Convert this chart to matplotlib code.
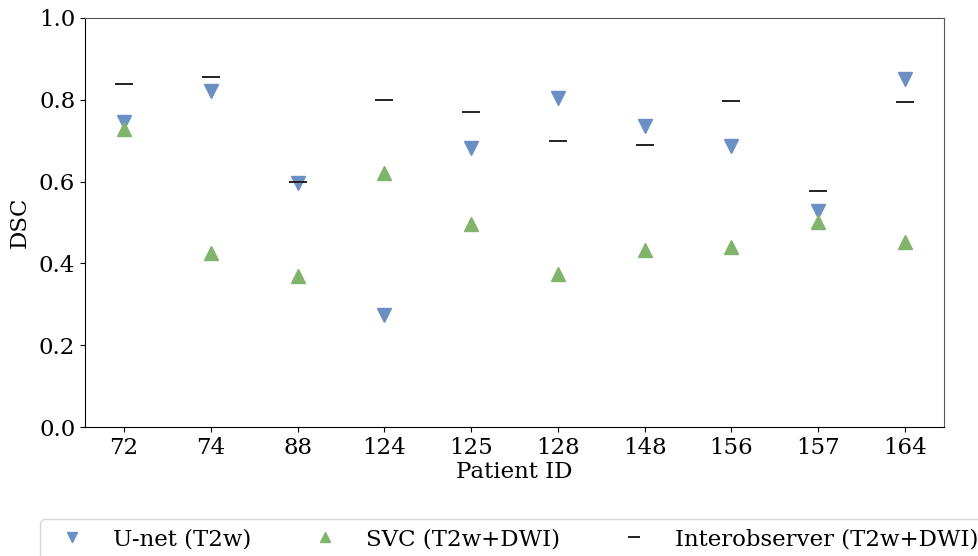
import matplotlib
matplotlib.use("Agg")
import matplotlib.pyplot as plt
import numpy as np

# data
patient_ids = ["72", "74", "88", "124", "125", "128", "148", "156", "157", "164"]
unet_dsc = [0.746, 0.822, 0.597, 0.274, 0.682, 0.804, 0.736, 0.687, 0.528, 0.851]
svc_dsc = [0.729, 0.425, 0.369, 0.621, 0.496, 0.374, 0.433, 0.440, 0.501, 0.452]
inter_dsc = [0.839, 0.856, 0.599, 0.800, 0.770, 0.699, 0.690, 0.797, 0.577, 0.795]

plt.rcParams["font.family"] = "DejaVu Serif"
plt.rcParams["font.size"] = 16.5

W, H = 979, 556
fig = plt.figure(figsize=(W / 100, H / 100), dpi=100)
ax = fig.add_axes([85 / W, 1 - 427 / H, (944 - 85) / W, (427 - 18) / H])

x = np.arange(len(patient_ids))
ax.plot(x, unet_dsc, linestyle="none", marker="v", markersize=10.5,
        color="#6b8fc4", label="U-net (T2w)")
ax.plot(x, svc_dsc, linestyle="none", marker="^", markersize=10.5,
        color="#80b46c", label="SVC (T2w+DWI)")
ax.plot(x, inter_dsc, linestyle="none", marker="_", markersize=13,
        markeredgewidth=1.4, color="#222222", label="Interobserver (T2w+DWI)")

ax.set_xticks(x)
ax.set_xticklabels(patient_ids)
ax.set_xlim(-0.45, len(patient_ids) - 0.55)
ax.set_ylim(0, 1.0)
ax.set_yticks(np.arange(0, 1.01, 0.2))
ax.set_yticklabels([f"{v:.1f}" for v in np.arange(0, 1.01, 0.2)])
ax.set_xlabel("Patient ID", labelpad=2)
ax.set_ylabel("DSC", labelpad=6)

for side in ["top", "right"]:
    ax.spines[side].set_color("#555555")
for side in ["left", "bottom"]:
    ax.spines[side].set_color("black")

leg = fig.legend(loc="upper left", bbox_to_anchor=(40 / W, 1 - 519 / H),
                 ncol=3, frameon=True, fancybox=True, edgecolor="#cccccc",
                 markerscale=0.65, columnspacing=2.2, handletextpad=0.8,
                 borderpad=0.4, borderaxespad=0)

fig.savefig("out.png", dpi=100)
